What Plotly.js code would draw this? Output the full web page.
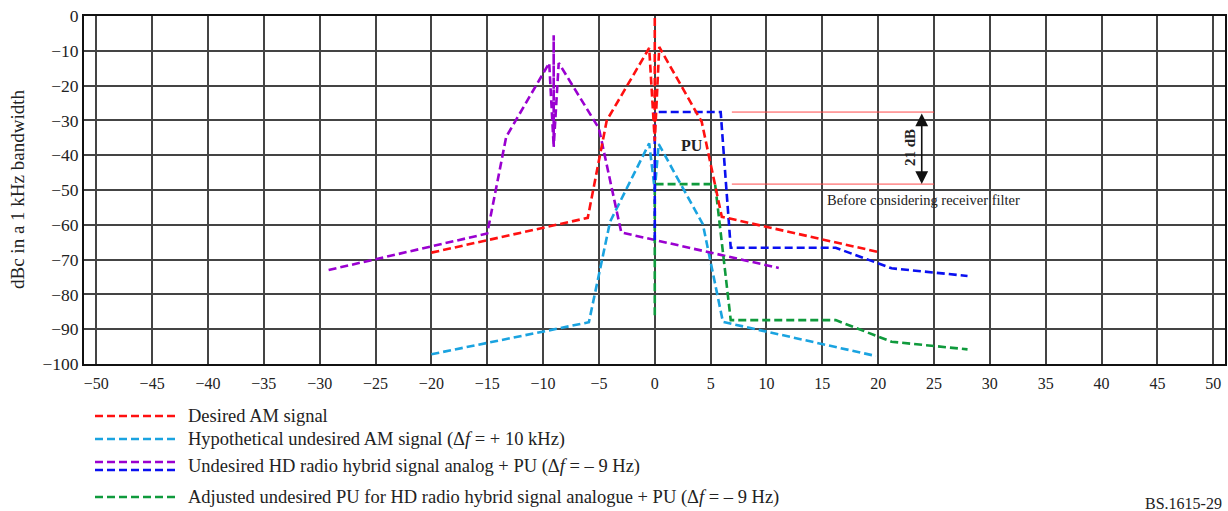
<!DOCTYPE html>
<html>
<head>
<meta charset="utf-8">
<script src="https://cdn.plot.ly/plotly-3.0.1.min.js"></script>
<style>html,body{margin:0;padding:0;background:#fff;}#chart{width:1228px;height:511px;}</style>
</head>
<body>
<div id="chart"></div>
<script>
// Data (frequency offset kHz, level dBc)
const desiredX = [-20, -6, -4.3, -0.5, 0, 0, 0, 0.4, 4.2, 6, 20];
const desiredY = [-68, -58, -30, -9.2, -36, 0, -36, -8.9, -30.4, -57.7, -67.8];

const hypoX = [-20, -5.9, -4, -0.5, 0, 0.35, 4.3, 6.1, 19.8];
const hypoY = [-97.2, -88, -59.1, -36.6, -50, -36.8, -59.8, -87.9, -97.7];

const hdX = [-29.2, -15, -13.3, -9.45, -9.05, -9.05, -9.05, -8.6, -5, -3, 11.1];
const hdY = [-73, -62.5, -34.7, -13.5, -37.6, -5.5, -37.6, -13.5, -32.3, -62.2, -72.4];

const puX = [0, 0, 5.9, 6.8, 16.2, 21.2, 28];
const puY = [-64.4, -27.6, -27.6, -66.6, -66.6, -72.5, -74.7];

const adjX = [0, 0, 5.4, 6.8, 16.2, 21.2, 28];
const adjY = [-86, -48.3, -48.3, -87.4, -87.4, -93.6, -95.8];

const puTop = -27.6, puAdj = -48.3;
const markerX0 = 6.9, markerX1 = 25, arrowX = 23.9;

const legendLabels = [
  'Desired AM signal',
  'Hypothetical undesired AM signal (Δ<i>f</i> = + 10 kHz)',
  'Undesired HD radio hybrid signal analog + PU (Δ<i>f</i> = – 9 Hz)',
  'Adjusted undesired PU for HD radio hybrid signal analogue + PU (Δ<i>f</i> = – 9 Hz)'
];

const cRed = '#ff1010', cCyan = '#1aa3e0', cPurple = '#9a00d0', cBlue = '#0a10f0', cGreen = '#0f9a3c';
const DASH = '8px,4px';
const FONT = 'Liberation Serif, Times New Roman, serif';

function tr(x, y, c) {
  return {x: x, y: y, type: 'scatter', mode: 'lines', line: {color: c, width: 2.6, dash: DASH}, showlegend: false, hoverinfo: 'skip'};
}

const data = [
  tr(hypoX, hypoY, cCyan),
  tr(hdX, hdY, cPurple),
  tr(adjX, adjY, cGreen),
  tr(puX, puY, cBlue),
  tr(desiredX, desiredY, cRed)
];

const L = 84, T = 16, W = 1141, H = 348;
function px(p) { return (p - L) / W; }
function py(p) { return (T + H - p) / H; }

const shapes = [
  {type: 'line', xref: 'x', yref: 'y', x0: markerX0, x1: markerX1, y0: puTop, y1: puTop, line: {color: '#ff4a4a', width: 1}},
  {type: 'line', xref: 'x', yref: 'y', x0: markerX0, x1: markerX1, y0: puAdj, y1: puAdj, line: {color: '#ff4a4a', width: 1}}
];
const legRows = [416, 439, 462, 497];
const legCols = [cRed, cCyan, cPurple, cGreen];
legRows.forEach((r, i) => {
  shapes.push({type: 'line', xref: 'paper', yref: 'paper', x0: px(95), x1: px(178), y0: py(r), y1: py(r), line: {color: legCols[i], width: 2.6, dash: DASH}});
});
shapes.push({type: 'line', xref: 'paper', yref: 'paper', x0: px(95), x1: px(178), y0: py(470), y1: py(470), line: {color: cBlue, width: 2.6, dash: DASH}});

const annotations = [
  {xref: 'paper', yref: 'paper', x: px(17), y: py(190), text: 'dBc in a 1 kHz bandwidth', textangle: -90, showarrow: false, font: {family: FONT, size: 19, color: '#222'}, xanchor: 'center', yanchor: 'middle'},
  {xref: 'x', yref: 'y', x: 3.3, y: -37.3, text: '<b>PU</b>', showarrow: false, font: {family: FONT, size: 16, color: '#222'}},
  {xref: 'x', yref: 'y', x: 22.8, y: -37.8, text: '<b>21 dB</b>', textangle: -90, showarrow: false, font: {family: FONT, size: 15, color: '#222'}},
  {xref: 'x', yref: 'y', x: 15.2, y: -52.8, text: 'Before considering receiver filter', showarrow: false, xanchor: 'left', font: {family: FONT, size: 14.5, color: '#222'}},
  {xref: 'x', yref: 'y', axref: 'x', ayref: 'y', x: arrowX, y: puAdj, ax: arrowX, ay: puTop, text: '', showarrow: true, arrowhead: 2, arrowside: 'end+start', arrowsize: 1.6, arrowwidth: 1.6, arrowcolor: '#111', standoff: 0, startstandoff: 0},
  {xref: 'paper', yref: 'paper', x: px(1224), y: py(503), text: 'BS.1615-29', showarrow: false, xanchor: 'right', yanchor: 'middle', font: {family: FONT, size: 16, color: '#222'}}
];
legendLabels.forEach((t, i) => {
  const yy = [416, 439, 466, 497][i];
  annotations.push({xref: 'paper', yref: 'paper', x: px(186), y: py(yy), text: t, showarrow: false, xanchor: 'left', yanchor: 'middle', font: {family: FONT, size: 18.5, color: '#222'}});
});

const layout = {
  width: 1228, height: 511,
  margin: {l: L, r: 3, t: T, b: 147, pad: 0},
  paper_bgcolor: '#fff', plot_bgcolor: '#fff',
  showlegend: false,
  xaxis: {range: [-51.1, 51.05], tickmode: 'linear', tick0: -50, dtick: 5, showgrid: true, gridcolor: '#444', gridwidth: 2, zeroline: false,
    showline: true, mirror: true, linecolor: '#111', linewidth: 2, ticks: 'outside', ticklen: 4, tickcolor: 'rgba(0,0,0,0)',
    tickfont: {family: FONT, size: 16, color: '#222'}, fixedrange: true},
  yaxis: {range: [-100, 0], tickmode: 'linear', tick0: -100, dtick: 10, showgrid: true, gridcolor: '#444', gridwidth: 2, zeroline: false,
    showline: true, mirror: true, linecolor: '#111', linewidth: 2, ticks: '', ticklen: 0,
    tickfont: {family: FONT, size: 17.5, color: '#222'}, fixedrange: true},
  shapes: shapes,
  annotations: annotations
};

Plotly.newPlot('chart', data, layout, {displayModeBar: false, staticPlot: true});
</script>
</body>
</html>
